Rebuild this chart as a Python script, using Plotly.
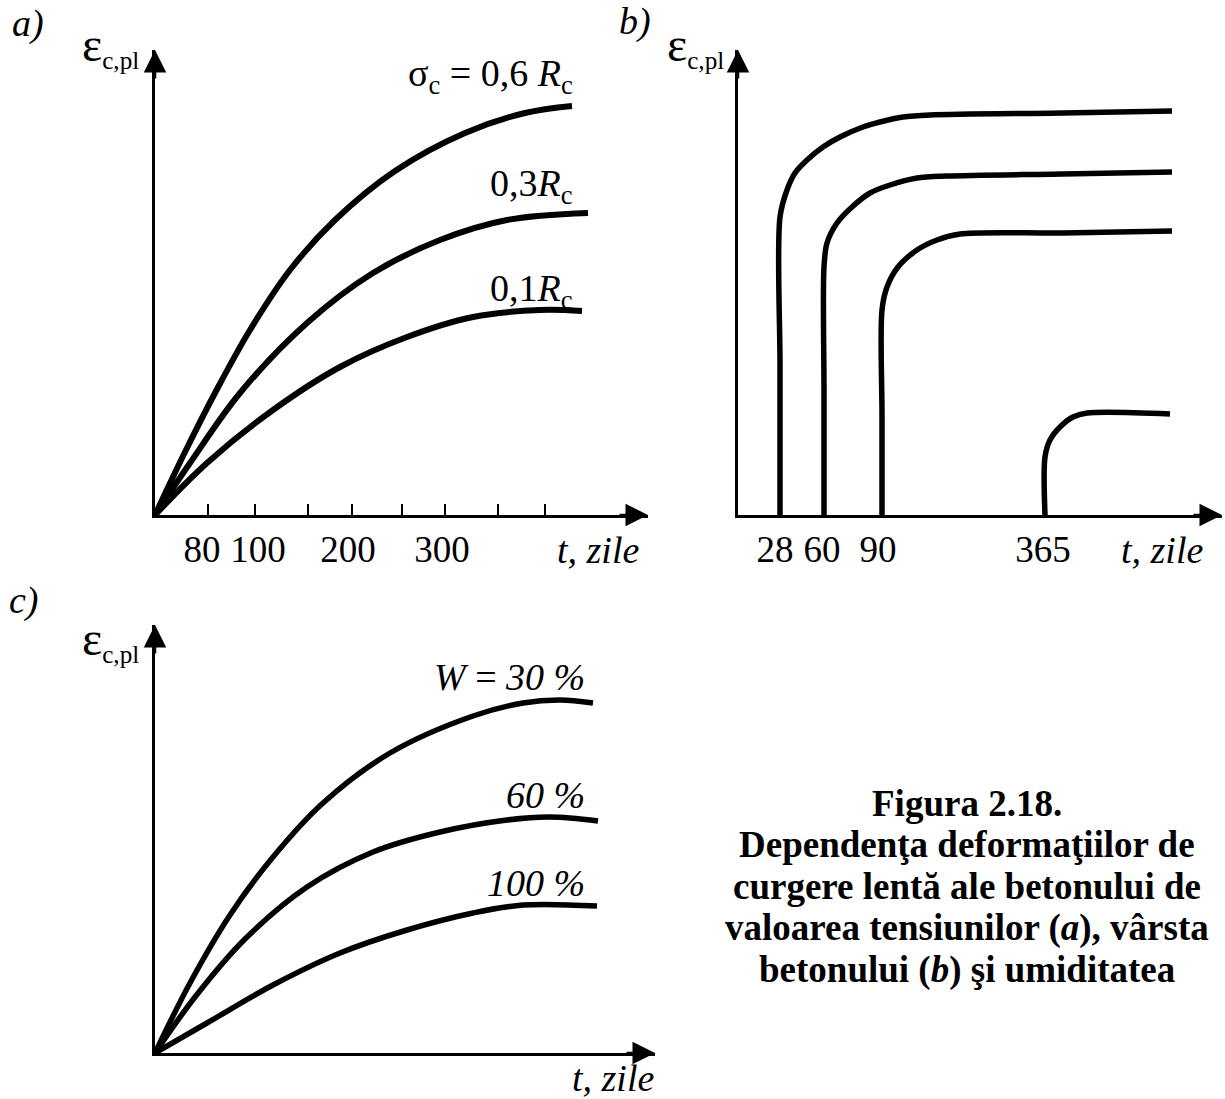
import plotly.graph_objects as go

W, H = 1225, 1099
FONT = "Liberation Serif"

# ---------------- data (schematic units) ----------------
# Panel a) creep strain vs time for three stress levels
a_x_06 = [0, 30, 60, 95, 135, 180, 240, 310, 370, 417]
a_y_06 = [0, 63, 122, 185, 245, 295, 344, 382, 402, 409]
a_x_03 = [0, 35, 85, 152, 218, 285, 352, 433]
a_y_03 = [0, 52, 122, 192, 242, 275, 295, 302]
a_x_01 = [0, 52, 118, 185, 252, 318, 385, 427]
a_y_01 = [0, 52, 105, 148, 178, 198, 205, 204]
a_labels = ["σ<sub>c</sub> = 0,6 <i>R</i><sub>c</sub>", "0,3<i>R</i><sub>c</sub>", "0,1<i>R</i><sub>c</sub>"]
a_tick_marks = [53, 100, 153, 197, 247, 290, 343, 390]
a_tick_label_pos = [47, 103, 193, 287]
a_tick_text = ["80", "100", "200", "300"]

# Panel b) creep strain for loading at different concrete ages
b_ages = ["28", "60", "90", "365"]
b_tick_vals = [37, 84, 140, 305]
b_x_28 = [42, 42, 42, 49, 57, 69, 85, 102, 125, 142, 165, 192, 325, 434]
b_y_28 = [0, 150, 298, 325, 342, 355, 368, 378, 388, 393, 398, 400, 402, 404]
b_x_60 = [86, 86, 86, 89, 99, 114, 132, 152, 179, 209, 325, 434]
b_y_60 = [0, 125, 248, 272, 292, 308, 322, 330, 337, 339, 341, 343]
b_x_90 = [144, 144, 144, 149, 160, 179, 199, 222, 325, 434]
b_y_90 = [0, 100, 205, 228, 248, 265, 275, 281, 282, 284]
b_x_365 = [307, 307, 312, 322, 335, 349, 432]
b_y_365 = [0, 58, 75, 88, 98, 102, 101]

# Panel c) creep strain for different air humidity
c_x_30 = [0, 35, 75, 118, 168, 235, 318, 368, 405, 438]
c_y_30 = [0, 70, 138, 196, 250, 300, 337, 350, 353, 350]
c_x_60 = [0, 40, 90, 152, 218, 285, 352, 395, 443]
c_y_60 = [0, 56, 114, 166, 201, 221, 233, 236, 232]
c_x_100 = [0, 52, 118, 185, 252, 318, 368, 442]
c_y_100 = [0, 30, 68, 100, 123, 140, 148, 147]
c_labels = ["<i>W</i> = <i>30 %</i>", "<i>60 %</i>", "<i>100 %</i>"]

caption_lines = ["Figura 2.18.", "Dependenţa deformaţiilor de", "curgere lentă ale betonului de",
                 "valoarea tensiunilor (<i>a</i>), vârsta", "betonului (<i>b</i>) şi umiditatea"]

# axis extents of the three panels (x length, y length)
panel_axes = [("x", "y", 493, 465), ("x2", "y2", 484, 465), ("x3", "y3", 500, 428)]

# ---------------- figure ----------------
fig = go.Figure()
line_a = dict(color="black", width=6, shape="spline", smoothing=1.0)
line_b = dict(color="black", width=5.5, shape="spline", smoothing=0.9)
line_c = dict(color="black", width=5.5, shape="spline", smoothing=1.0)

for xs, ys in [(a_x_06, a_y_06), (a_x_03, a_y_03), (a_x_01, a_y_01)]:
    fig.add_trace(go.Scatter(x=xs, y=ys, mode="lines", line=line_a, xaxis="x", yaxis="y",
                             showlegend=False, hoverinfo="skip"))
for xs, ys in [(b_x_28, b_y_28), (b_x_60, b_y_60), (b_x_90, b_y_90), (b_x_365, b_y_365)]:
    fig.add_trace(go.Scatter(x=xs, y=ys, mode="lines", line=line_b, xaxis="x2", yaxis="y2",
                             showlegend=False, hoverinfo="skip"))
for xs, ys in [(c_x_30, c_y_30), (c_x_60, c_y_60), (c_x_100, c_y_100)]:
    fig.add_trace(go.Scatter(x=xs, y=ys, mode="lines", line=line_c, xaxis="x3", yaxis="y3",
                             showlegend=False, hoverinfo="skip"))


def px_x(p):
    return p / W


def px_y(p):
    return 1 - p / H


axis_common = dict(showline=True, linecolor="black", linewidth=2.5, showgrid=False,
                   zeroline=False, fixedrange=True)

tickfont = dict(family=FONT, size=37, color="black")

fig.update_layout(
    width=W, height=H,
    margin=dict(l=0, r=0, t=0, b=0),
    paper_bgcolor="white", plot_bgcolor="rgba(0,0,0,0)",
    showlegend=False,
    xaxis=dict(domain=[px_x(155), px_x(648)], range=[0, 493], anchor="y",
               tickmode="array", tickvals=a_tick_label_pos, ticktext=a_tick_text, tickangle=0,
               ticks="",
               minor=dict(tickmode="array", tickvals=a_tick_marks, ticks="inside",
                          ticklen=11, tickwidth=2, tickcolor="black", showgrid=False),
               tickfont=tickfont, ticklabelstandoff=0, **axis_common),
    yaxis=dict(domain=[px_y(515), px_y(50)], range=[0, 465], anchor="x",
               showticklabels=False, ticks="", **axis_common),
    xaxis2=dict(domain=[px_x(738), px_x(1222)], range=[0, 484], anchor="y2",
                tickmode="array", tickvals=b_tick_vals, tickangle=0,
                ticktext=b_ages, ticks="", tickfont=tickfont, ticklabelstandoff=0,
                **axis_common),
    yaxis2=dict(domain=[px_y(515), px_y(50)], range=[0, 465], anchor="x2",
                showticklabels=False, ticks="", **axis_common),
    xaxis3=dict(domain=[px_x(155), px_x(655)], range=[0, 500], anchor="y3",
                showticklabels=False, ticks="", **axis_common),
    yaxis3=dict(domain=[px_y(1053), px_y(625)], range=[0, 428], anchor="x3",
                showticklabels=False, ticks="", **axis_common),
)

ann = []
# axis arrowheads
for xr, yr, xe, ye in panel_axes:
    ann.append(dict(x=xe, y=0, ax=xe - 30, ay=0, xref=xr, yref=yr, axref=xr, ayref=yr,
                    showarrow=True, arrowhead=2, arrowsize=1.8, arrowwidth=2.5,
                    arrowcolor="black", text=""))
    ann.append(dict(x=0, y=ye, ax=0, ay=ye - 30, xref=xr, yref=yr, axref=xr, ayref=yr,
                    showarrow=True, arrowhead=2, arrowsize=1.8, arrowwidth=2.5,
                    arrowcolor="black", text=""))

lab_font = dict(family=FONT, size=38, color="black")
eps_text = '<span style="font-size:48px">ε</span><sub>c,pl</sub>'
# y-axis titles (paper coordinates)
for xp, yp in [(141, 46), (726, 46), (141, 640)]:
    ann.append(dict(x=px_x(xp), y=px_y(yp), xref="paper", yref="paper", xanchor="right",
                    yanchor="middle", text=eps_text, showarrow=False,
                    font=dict(family=FONT, size=36, color="black")))
# x-axis titles
for xp, yp in [(598, 550), (1162, 550), (613, 1078)]:
    ann.append(dict(x=px_x(xp), y=px_y(yp), xref="paper", yref="paper", xanchor="center",
                    yanchor="middle", text="<i>t, zile</i>", showarrow=False, font=lab_font))

# curve labels panel a
for txt, yv in zip(a_labels, [439, 329, 224]):
    ann.append(dict(x=420, y=yv, xref="x", yref="y", xanchor="right", yanchor="middle",
                    text=txt, showarrow=False, font=lab_font))
# curve labels panel c
for txt, yv in zip(c_labels, [376, 258, 170]):
    ann.append(dict(x=432, y=yv, xref="x3", yref="y3", xanchor="right", yanchor="middle",
                    text=txt, showarrow=False, font=lab_font))

# panel letters
for txt, xp, yp in [("a)", 28, 24), ("b)", 635, 22), ("c)", 24, 600)]:
    ann.append(dict(x=px_x(xp), y=px_y(yp), xref="paper", yref="paper", xanchor="center",
                    yanchor="middle", text=f"<i>{txt}</i>", showarrow=False, font=lab_font))

# caption, one line per annotation
for i, line in enumerate(caption_lines):
    ann.append(dict(x=px_x(967), y=px_y(803 + 41.7 * i), xref="paper", yref="paper",
                    xanchor="center", yanchor="middle", text=f"<b>{line}</b>",
                    showarrow=False, font=dict(family=FONT, size=37, color="black")))

fig.update_layout(annotations=ann)
fig.write_html("out.html")
